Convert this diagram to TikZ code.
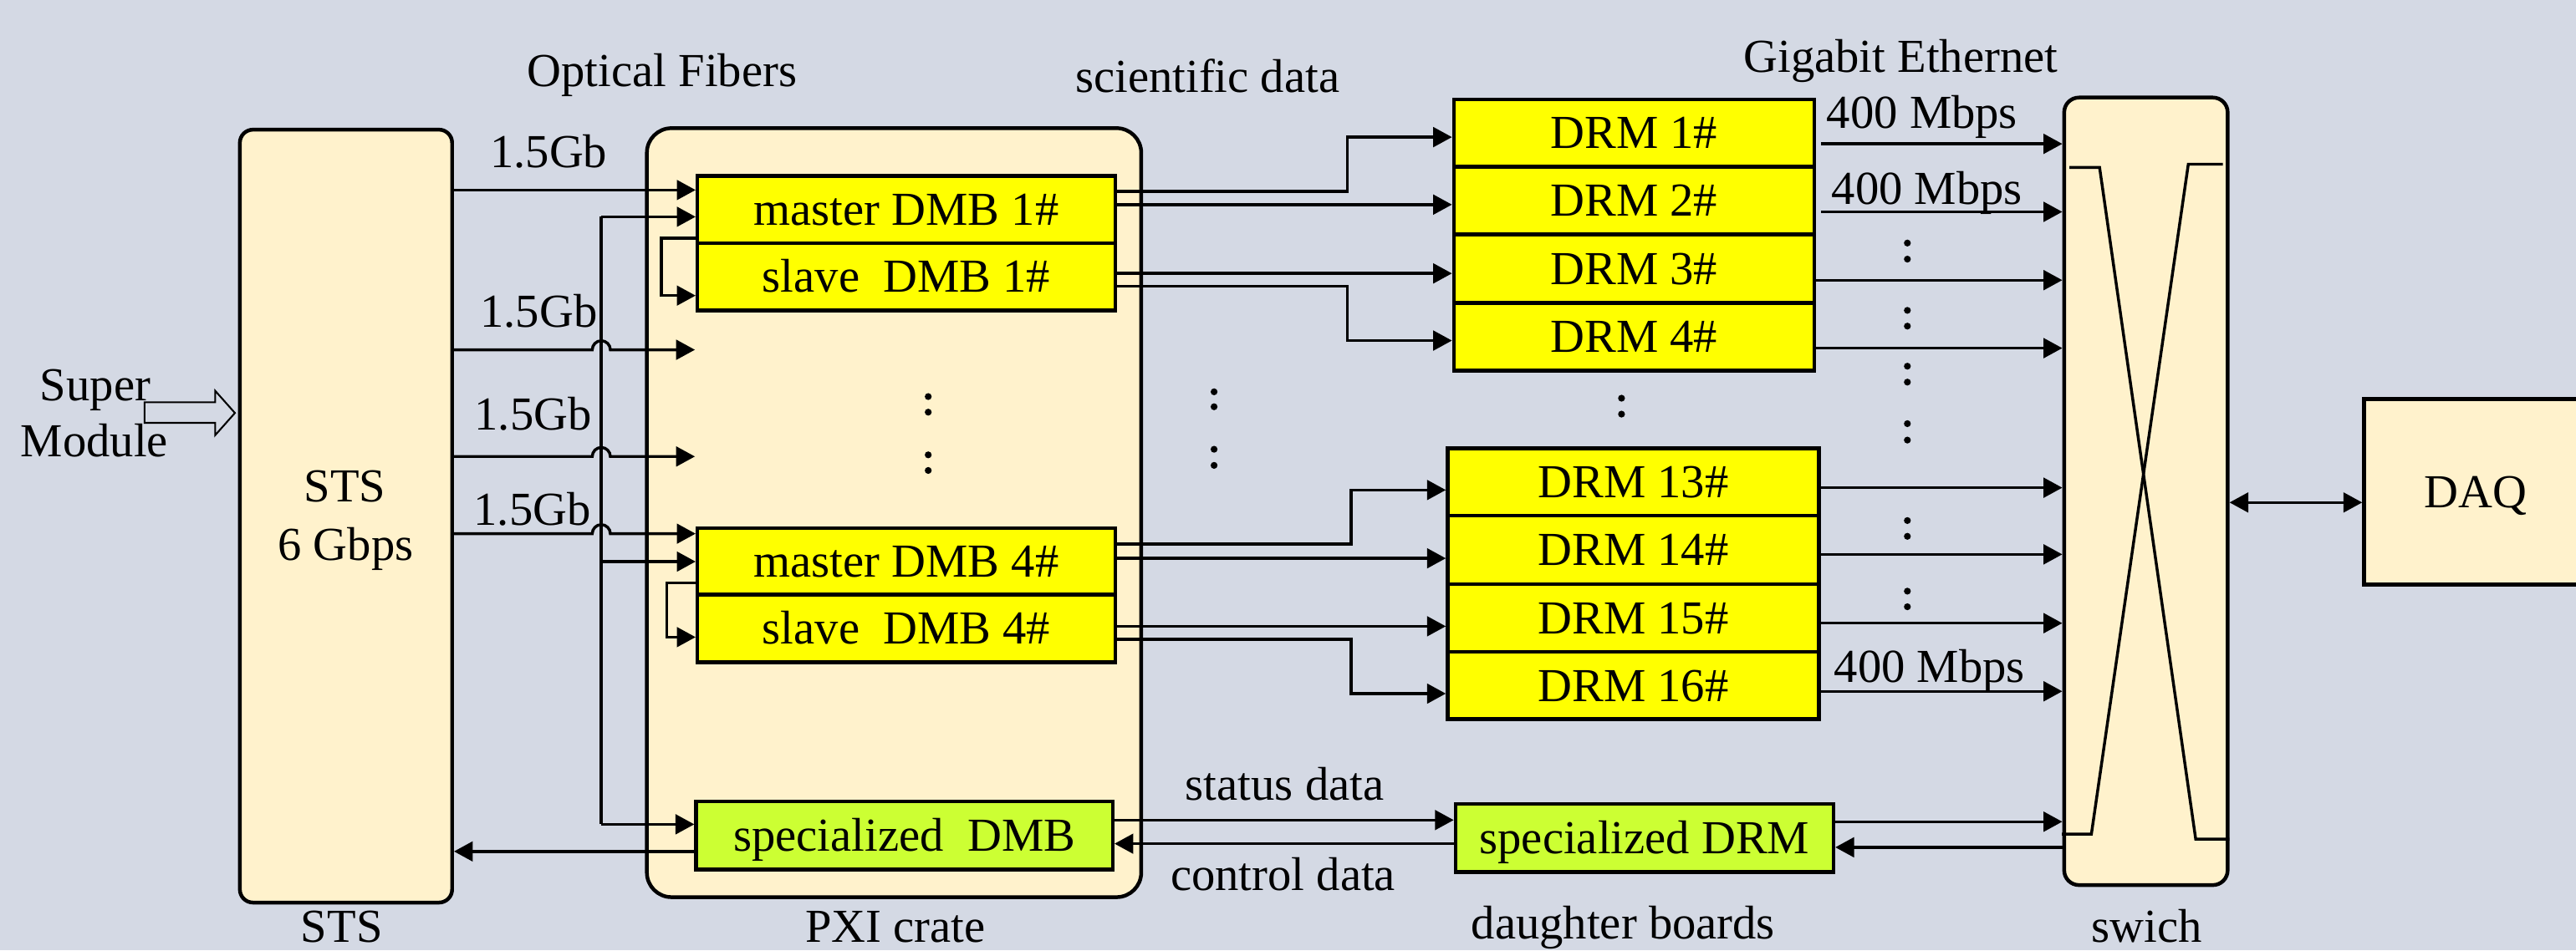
\documentclass[tikz,border=0pt]{standalone}
\usepackage{fontspec}
\setmainfont{Liberation Serif}
\usetikzlibrary{arrows.meta}
\definecolor{bgblue}{RGB}{212,217,228}
\definecolor{cream}{RGB}{255,242,204}
\definecolor{boardyellow}{RGB}{255,255,0}
\definecolor{boardgreen}{RGB}{204,255,51}
\newcommand\pxu{0.02cm}

\begin{document}
\begin{tikzpicture}[x=0.02cm, y=-0.02cm,
  font=\fontsize{16.4}{19.7}\selectfont,
  frame/.style={draw, line width=1.3pt, fill=cream, inner sep=0pt},
  board/.style={draw, line width=1.3pt, inner sep=0pt, text height=10.8pt, text depth=0pt},
  dmb/.style={board, fill=boardyellow, minimum width=254.3*\pxu},
  drmA/.style={board, fill=boardyellow, minimum width=219.3*\pxu},
  drmB/.style={board, fill=boardyellow, minimum width=226*\pxu},
  special/.style={board, fill=boardgreen},
  lbl/.style={inner sep=0pt, anchor=base},
  wire/.style={line width=1pt},
  arr/.style={wire, -{Triangle[length=6.5pt,width=6.8pt]}},
  dbl/.style={wire, {Triangle[length=6.5pt,width=6.8pt]}-{Triangle[length=6.5pt,width=6.8pt]}},
  dotmark/.style={fill=black}
]
% canvas
\path[use as bounding box] (0,0) rectangle (1568,578.7);
\fill[bgblue] (0,0) rectangle (1568,578.7);
\clip (0,0) rectangle (1568,578.7);

% enclosures
\node[frame, rounded corners=0.16cm, minimum width=129.2*\pxu, minimum height=470.7*\pxu] (sts) at (210.6,314.3) {};
\node[frame, rounded corners=0.3cm, minimum width=300.9*\pxu, minimum height=468.3*\pxu] (pxi) at (544.2,312.2) {};
\node[frame, rounded corners=0.18cm, minimum width=99.5*\pxu, minimum height=479.6*\pxu] (sw) at (1306.2,299.2) {};
\node[frame, minimum width=136*\pxu, minimum height=113*\pxu, text height=10.8pt, text depth=0pt] (daq) at (1507,299.5) {DAQ};

% data merging boards
\node[dmb, minimum height=41*\pxu] (m1) at (551.7,127.5) {master DMB 1\#};
\node[dmb, minimum height=41*\pxu] (s1) at (551.7,168.5) {slave\ \ DMB 1\#};
\node[dmb, minimum height=40.7*\pxu] (m4) at (551.7,341.9) {master DMB 4\#};
\node[dmb, minimum height=41.2*\pxu] (s4) at (551.7,382.8) {slave\ \ DMB 4\#};
\node[special, minimum width=253.5*\pxu, minimum height=41.6*\pxu] (spdmb) at (550.5,508.8) {specialized\ \ DMB};

% data readout modules
\node[drmA, minimum height=40.8*\pxu] (d1) at (994.6,81.0) {DRM 1\#};
\node[drmA, minimum height=41.4*\pxu] (d2) at (994.6,122.1) {DRM 2\#};
\node[drmA, minimum height=41.6*\pxu] (d3) at (994.6,163.6) {DRM 3\#};
\node[drmA, minimum height=41.2*\pxu] (d4) at (994.6,205.0) {DRM 4\#};
\node[drmB, minimum height=41*\pxu] (d13) at (994.2,293.5) {DRM 13\#};
\node[drmB, minimum height=41.7*\pxu] (d14) at (994.2,334.9) {DRM 14\#};
\node[drmB, minimum height=41.3*\pxu] (d15) at (994.2,376.4) {DRM 15\#};
\node[drmB, minimum height=41*\pxu] (d16) at (994.2,417.5) {DRM 16\#};
\node[special, minimum width=230*\pxu, minimum height=41.5*\pxu] (spdrm) at (1001,510.3) {specialized DRM};

% switch crossover
\draw[wire] (1259.6,102) -- (1278,102) -- (1336.5,511) -- (1357,511);
\draw[wire] (1255,508) -- (1273,508) -- (1332,100) -- (1353,100);

% labels
\node[lbl] (optfib) at (403,52.6) {Optical Fibers};
\node[lbl] (scidata) at (735,56) {scientific data};
\node[lbl] (gbe) at (1157,44) {Gigabit Ethernet};
\node[lbl] (r1) at (334,102) {1.5Gb};
\node[lbl] (r2) at (328,199) {1.5Gb};
\node[lbl] (r3) at (324.5,262) {1.5Gb};
\node[lbl] (r4) at (324,320) {1.5Gb};
\node[lbl] (bw1) at (1170,78) {400 Mbps};
\node[lbl] (bw2) at (1173,124.6) {400 Mbps};
\node[lbl] (bw3) at (1174.5,415.6) {400 Mbps};
\node[lbl] (ststitle) at (210,305.6) {STS};
\node[lbl] (stsrate) at (210.4,341) {6 Gbps};
\node[lbl] (super) at (58,244) {Super};
\node[lbl] (module) at (57.5,278) {Module};
\node[lbl] (stscap) at (208,574) {STS};
\node[lbl] (pxicap) at (545,574) {PXI crate};
\node[lbl] (dbcap) at (988,572) {daughter boards};
\node[lbl] (swcap) at (1306.7,574) {swich};
\node[lbl] (stat) at (782,487.5) {status data};
\node[lbl] (ctrl) at (781,542) {control data};

% super module input (hollow arrow)
\draw[line width=0.6pt] (88,245) -- (131,245) -- (131,238) -- (143,251.5)
  -- (131,265) -- (131,257.5) -- (88,257.5) -- cycle;

% fibres from STS into the crate
\coordinate (in2) at (423,213);
\coordinate (in3) at (423,278);
\draw[arr] (sts.east |- 0,115.7) -- (m1.west |- 0,115.7);
\draw[arr] (sts.east |- in2) -- (360.5,213) arc[start angle=180,end angle=0,radius=0.11cm] -- (in2);
\draw[arr] (sts.east |- in3) -- (360.5,278) arc[start angle=180,end angle=0,radius=0.11cm] -- (in3);
\draw[arr] (sts.east |- 0,325) -- (360.5,325) arc[start angle=180,end angle=0,radius=0.11cm] -- (m4.west |- 0,325);

% distribution bus
\coordinate (busTop) at (366,132);
\coordinate (busMid) at (366,342);
\coordinate (busBot) at (366,502);
\draw[wire] (busTop) -- (busBot);
\draw[arr] (busTop) -- (m1.west |- busTop);
\draw[arr] (busMid) -- (m4.west |- busMid);
\draw[arr] (busBot) -- (spdmb.west |- busBot);

% master to slave links
\draw[arr] (m1.west |- 0,145) -- (402.5,145) -- (402.5,180) -- (s1.west |- 0,180);
\draw[arr] (m4.west |- 0,355) -- (406,355) -- (406,388) -- (s4.west |- 0,388);

% feedback to STS
\draw[arr] (spdmb.west |- 0,518.5) -- (sts.east |- 0,518.5);

% scientific data to DRMs
\draw[arr] (m1.east |- 0,116.5) -- (820,116.5) -- (820,83.5) -- (d1.west |- 0,83.5);
\draw[arr] (m1.east |- 0,124.6) -- (d2.west |- 0,124.6);
\draw[arr] (s1.east |- 0,166.5) -- (d3.west |- 0,166.5);
\draw[arr] (s1.east |- 0,174.3) -- (820,174.3) -- (820,207.4) -- (d4.west |- 0,207.4);
\draw[arr] (m4.east |- 0,331.4) -- (822.4,331.4) -- (822.4,298.4) -- (d13.west |- 0,298.4);
\draw[arr] (m4.east |- 0,340) -- (d14.west |- 0,340);
\draw[arr] (s4.east |- 0,381.4) -- (d15.west |- 0,381.4);
\draw[arr] (s4.east |- 0,389.4) -- (822.4,389.4) -- (822.4,422.4) -- (d16.west |- 0,422.4);

% status and control
\draw[arr] (spdmb.east |- 0,499.4) -- (spdrm.west |- 0,499.4);
\draw[arr] (spdrm.west |- 0,513.8) -- (spdmb.east |- 0,513.8);

% gigabit ethernet links
\draw[arr, shorten <=0.06cm] (d1.east |- 0,87.6) -- (sw.west |- 0,87.6);
\draw[arr, shorten <=0.06cm] (d2.east |- 0,129) -- (sw.west |- 0,129);
\draw[arr] (d3.east |- 0,170.6) -- (sw.west |- 0,170.6);
\draw[arr] (d4.east |- 0,212) -- (sw.west |- 0,212);
\draw[arr] (d13.east |- 0,297) -- (sw.west |- 0,297);
\draw[arr] (d14.east |- 0,337.6) -- (sw.west |- 0,337.6);
\draw[arr] (d15.east |- 0,379.5) -- (sw.west |- 0,379.5);
\draw[arr] (d16.east |- 0,421) -- (sw.west |- 0,421);
\draw[arr] (spdrm.east |- 0,500.4) -- (sw.west |- 0,500.4);
\draw[arr] (sw.west |- 0,516) -- (spdrm.east |- 0,516);
\draw[dbl] (sw.east |- 0,306) -- (daq.west |- 0,306);

% ellipsis marks
\foreach \cx/\cy in {565/241.5, 565/251, 565/277, 565/286.5,
                     739/238.6, 739/247.7, 739/273.6, 739/283.4,
                     987/242.5, 987/252.2,
                     1161/148, 1161/157.8, 1161/189, 1161/198.6,
                     1161/223, 1161/232.7, 1161/258, 1161/268,
                     1161/317, 1161/326.6, 1161/360, 1161/369.5}
  \fill[dotmark] (\cx,\cy) circle[radius=0.042cm];
\end{tikzpicture}
\end{document}
